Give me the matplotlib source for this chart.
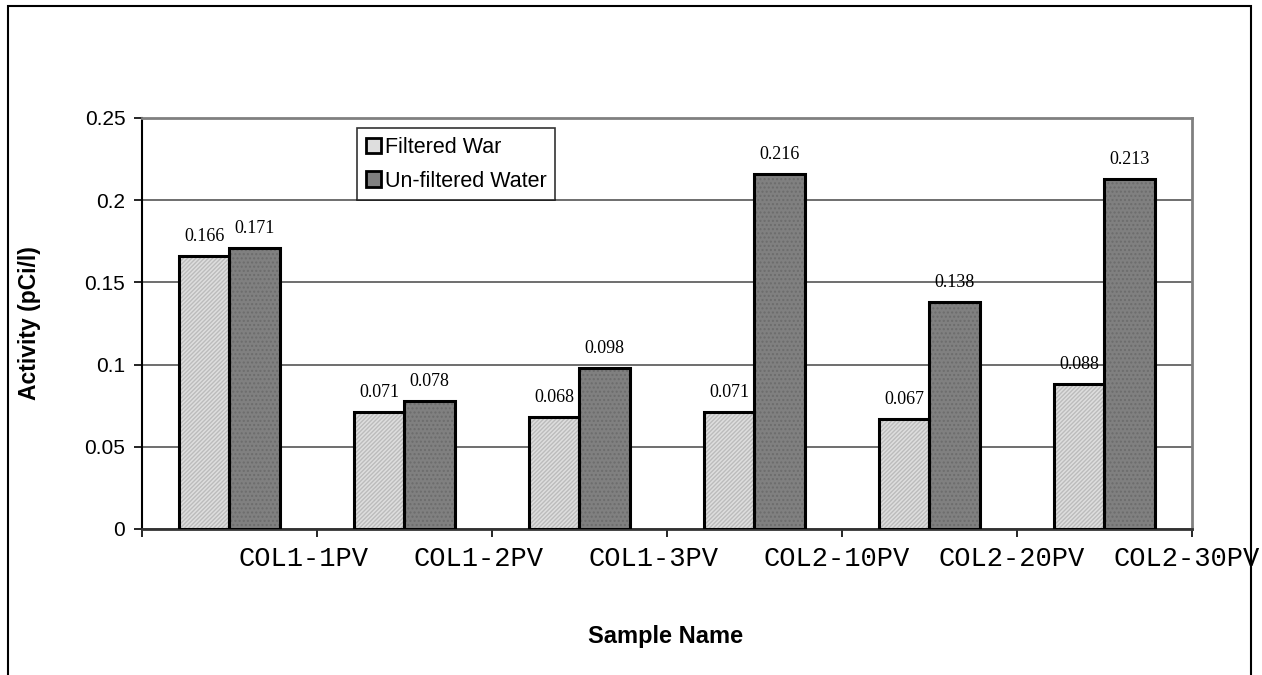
import numpy as np
import matplotlib.pyplot as plt
from matplotlib.patches import Rectangle

# Activity per sample, filtered vs un-filtered water
samples = ['COL1-1PV', 'COL1-2PV', 'COL1-3PV', 'COL2-10PV', 'COL2-20PV', 'COL2-30PV']
filtered = [0.166, 0.071, 0.068, 0.071, 0.067, 0.088]
unfiltered = [0.171, 0.078, 0.098, 0.216, 0.138, 0.213]
series_names = ['Filtered War', 'Un-filtered Water']

sans = ['Liberation Sans', 'DejaVu Sans']
mono = ['Liberation Mono', 'DejaVu Sans Mono']
serif = ['Liberation Serif', 'DejaVu Serif']

fig = plt.figure(figsize=(12.62, 6.75), dpi=100)
ax = fig.add_axes([0.1125, 0.2163, 0.8320, 0.6089])

x = np.arange(len(samples))
w = 0.289

# fills with hatching first, then the black outlines on top
ax.bar(x - w / 2, filtered, w, color='#dedede', hatch='////////', edgecolor='#bcbcbc',
       linewidth=0, zorder=3)
ax.bar(x + w / 2, unfiltered, w, color='#808080', hatch='....', edgecolor='#6c6c6c',
       linewidth=0, zorder=3)
ax.bar(x - w / 2, filtered, w, fill=False, edgecolor='black', linewidth=2.2, zorder=4)
ax.bar(x + w / 2, unfiltered, w, fill=False, edgecolor='black', linewidth=2.2, zorder=4)

for xi, v in zip(x - w / 2, filtered):
    ax.annotate(f'{v:.3f}', (xi, v), xytext=(0, 8), textcoords='offset points',
                ha='center', va='bottom', fontsize=13, family=serif, zorder=5)
for xi, v in zip(x + w / 2, unfiltered):
    ax.annotate(f'{v:.3f}', (xi, v), xytext=(0, 8), textcoords='offset points',
                ha='center', va='bottom', fontsize=13, family=serif, zorder=5)

ax.set_xlim(-0.5, len(samples) - 0.5)
ax.set_ylim(0, 0.25)
ax.set_yticks([0, 0.05, 0.1, 0.15, 0.2, 0.25])
ax.set_yticklabels(['0', '0.05', '0.1', '0.15', '0.2', '0.25'], family=sans, fontsize=15)
ax.yaxis.grid(True, color='#555555', linewidth=1.2, zorder=0)
ax.tick_params(axis='y', direction='out', length=6, width=1.2, pad=6)

# category boundaries get the tick marks, names sit just right of each centre
ax.set_xticks(np.arange(-0.5, len(samples)), minor=True)
ax.set_xticks(x + 0.05)
ax.set_xticklabels(samples, family=mono, fontsize=19.5, ha='left')
ax.tick_params(axis='x', which='major', length=0, pad=12)
ax.tick_params(axis='x', which='minor', direction='out', length=6, width=1.2)

for side in ['top', 'right']:
    ax.spines[side].set_color('#808080')
    ax.spines[side].set_linewidth(2)
ax.spines['left'].set_linewidth(1.5)
ax.spines['bottom'].set_color('#333333')
ax.spines['bottom'].set_linewidth(2)

leg = ax.legend(series_names, loc='upper left', bbox_to_anchor=(0.2048, 0.9757),
                prop={'family': sans, 'size': 15.5}, frameon=True, fancybox=False,
                handlelength=0.7, handleheight=0.7, handletextpad=0.2,
                borderpad=0.4, labelspacing=0.6, borderaxespad=0)
leg.get_frame().set_edgecolor('black')
leg.get_frame().set_linewidth(1.2)
for h, c in zip(leg.legend_handles, ['#dedede', '#808080']):
    h.set_facecolor(c)
    h.set_hatch(None)
    h.set_edgecolor('black')
    h.set_linewidth(2)

fig.text(0.0235, 0.5215, 'Activity (pCi/l)', rotation=90, ha='center', va='center',
         family=sans, fontsize=16.5, fontweight='bold')
fig.text(0.527, 0.0563, 'Sample Name', ha='center', va='center',
         family=sans, fontsize=17, fontweight='bold')

# outer chart frame
fig.patches.append(Rectangle((8 / 1262, -0.02), 1243 / 1262, 1.02 - 6 / 675,
                             transform=fig.transFigure, fill=False,
                             edgecolor='black', linewidth=1.5))

fig.savefig('out.png', dpi=100)
